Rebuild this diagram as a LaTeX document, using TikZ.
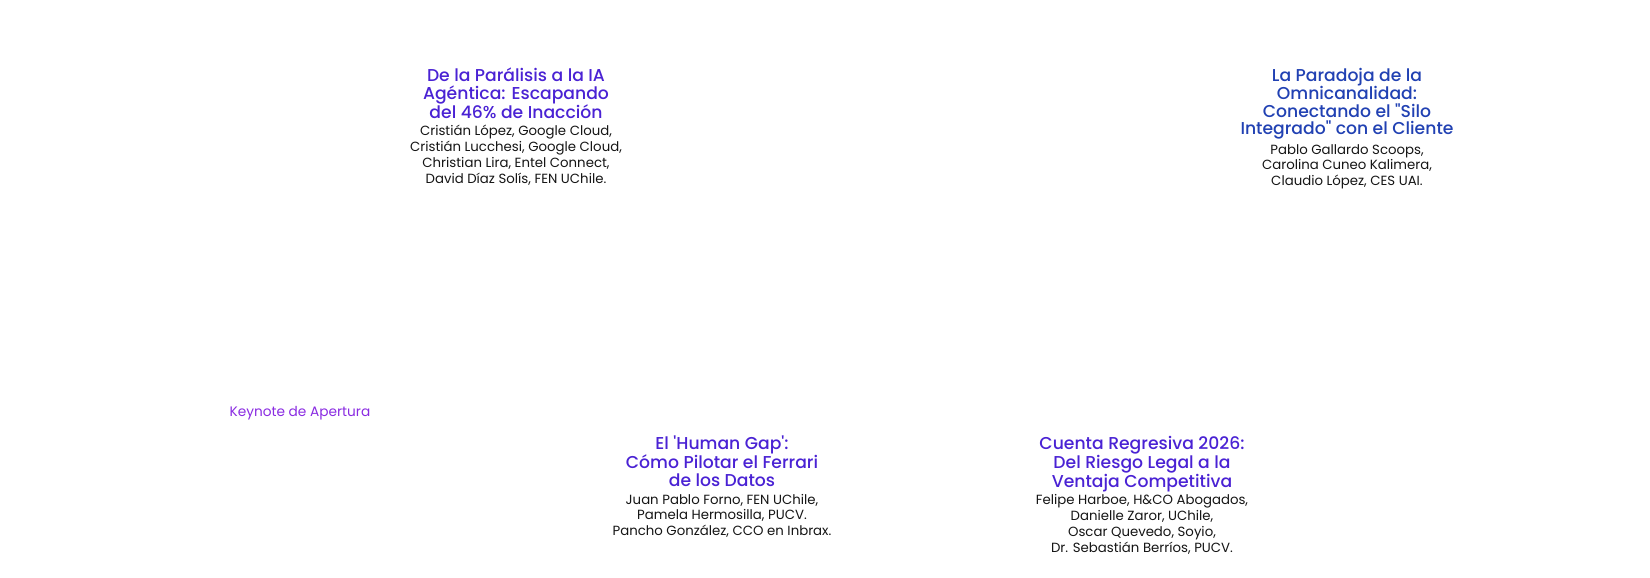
\documentclass[tikz,border=0pt]{standalone}
\usepackage{fontspec}
\setmainfont{Poppins}
\newfontfamily\ttlfont{Poppins}[UprightFont=* Medium]
\definecolor{tpurple}{HTML}{4A22D4}
\definecolor{tblue}{HTML}{2141B3}
\definecolor{kviolet}{HTML}{8A2BE2}
\definecolor{auth}{HTML}{151515}
\tikzset{
  ttl/.style={align=center, inner sep=0pt, anchor=base, font=\ttlfont\fontsize{17.2}{17.8}\selectfont},
  aut/.style={align=center, inner sep=0pt, anchor=base, text=auth, font=\fontsize{13.3}{15.7}\selectfont},
}
\begin{document}
\begin{tikzpicture}[x=1pt,y=-1pt]
\useasboundingbox[fill=white] (0,0) rectangle (1650,578);
% base anchor = baseline of the last line
\node[ttl, text=tpurple] (t1) at (516,118.6) {De la Parálisis a la IA\\Agéntica: Escapando\\del 46\% de Inacción};
\node[aut] (a1) at (516,183) {Cristián López, Google Cloud,\\Cristián Lucchesi, Google Cloud,\\Christian Lira, Entel Connect,\\David Díaz Solís, FEN UChile.};
\node[ttl, text=tblue] (t2) at (1347,135) {La Paradoja de la\\Omnicanalidad:\\Conectando el "Silo\\Integrado" con el Cliente};
\node[aut] (a2) at (1347,185.5) {Pablo Gallardo Scoops,\\Carolina Cuneo Kalimera,\\Claudio López, CES UAI.};
\node[text=kviolet, inner sep=0pt, anchor=base, font=\fontsize{13.7}{15.7}\selectfont] (k) at (300,416.7) {Keynote de Apertura};
\node[ttl, text=tpurple] (t3) at (722,486.7) {El 'Human Gap':\\Cómo Pilotar el Ferrari\\de los Datos};
\node[aut] (a3) at (722,535.5) {Juan Pablo Forno, FEN UChile,\\Pamela Hermosilla, PUCV.\\Pancho González, CCO en Inbrax.};
\node[ttl, text=tpurple] (t4) at (1142,487) {Cuenta Regresiva 2026:\\Del Riesgo Legal a la\\Ventaja Competitiva};
\node[aut] (a4) at (1142,552) {Felipe Harboe, H\&CO Abogados,\\Danielle Zaror, UChile,\\Oscar Quevedo, Soyio,\\Dr. Sebastián Berríos, PUCV.};
\end{tikzpicture}
\end{document}
